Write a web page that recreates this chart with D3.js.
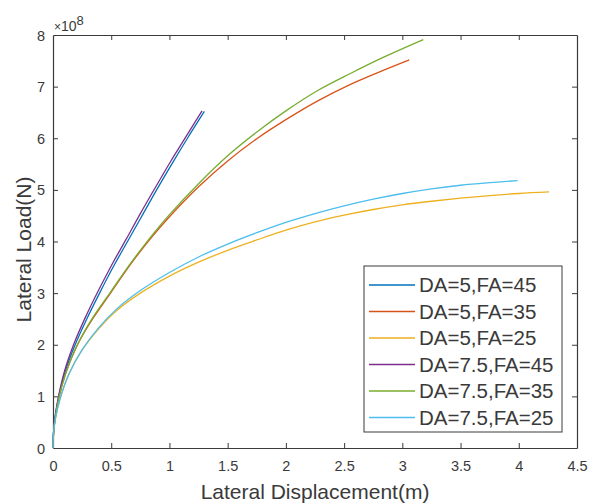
<!DOCTYPE html>
<html>
<head>
<meta charset="utf-8">
<script src="https://cdn.jsdelivr.net/npm/d3@7/dist/d3.min.js"></script>
<style>
  html, body { margin: 0; padding: 0; background: #fff; }
  svg { display: block; font-family: "Liberation Sans", Arial, Helvetica, sans-serif; }
</style>
</head>
<body>
<svg id="chart" width="590" height="503"></svg>
<script>
// ---- Data (displacement in m, load in 1e8 N) ----
const seriesNames = ["DA=5,FA=45", "DA=5,FA=35", "DA=5,FA=25", "DA=7.5,FA=45", "DA=7.5,FA=35", "DA=7.5,FA=25"];
const seriesColors = ["#0072BD", "#D95319", "#EDB120", "#7E2F8E", "#77AC30", "#4DBEEE"];

const da5fa45 = [[0,0],[0.005,0.3],[0.02,0.62],[0.05,1.0],[0.1,1.45],[0.19,2.0],[0.29,2.5],[0.4,3.0],[0.52,3.52],[0.64,4.0],[0.76,4.48],[0.89,5.0],[1.02,5.5],[1.16,6.02],[1.30,6.52]];
const da5fa35 = [[0,0],[0.005,0.3],[0.02,0.6],[0.05,0.97],[0.11,1.45],[0.21,2.0],[0.34,2.5],[0.5,3.02],[0.6,3.35],[0.72,3.72],[0.85,4.09],[1.0,4.48],[1.25,5.06],[1.5,5.56],[1.75,5.99],[2.0,6.36],[2.27,6.72],[2.55,7.04],[2.84,7.32],[3.06,7.52]];
const da5fa25 = [[0,0],[0.005,0.28],[0.02,0.56],[0.06,0.95],[0.14,1.45],[0.25,1.9],[0.4,2.33],[0.55,2.67],[0.75,3.0],[1.0,3.33],[1.25,3.6],[1.5,3.83],[1.75,4.03],[2.0,4.22],[2.25,4.38],[2.5,4.51],[2.75,4.62],[3.0,4.71],[3.25,4.78],[3.5,4.84],[3.75,4.89],[4.0,4.93],[4.26,4.96]];
const da75fa45 = [[0,0],[0.005,0.31],[0.02,0.64],[0.05,1.03],[0.1,1.5],[0.18,2.02],[0.28,2.54],[0.39,3.05],[0.51,3.57],[0.63,4.05],[0.75,4.54],[0.88,5.05],[1.01,5.55],[1.15,6.06],[1.28,6.53]];
const da75fa35 = [[0,0],[0.005,0.3],[0.02,0.6],[0.05,0.97],[0.11,1.45],[0.21,2.0],[0.34,2.52],[0.5,3.04],[0.6,3.37],[0.72,3.74],[0.85,4.12],[1.0,4.52],[1.25,5.12],[1.5,5.66],[1.75,6.12],[2.0,6.53],[2.27,6.92],[2.55,7.25],[2.84,7.57],[3.18,7.91]];
const da75fa25 = [[0,0],[0.005,0.28],[0.02,0.56],[0.06,0.95],[0.14,1.45],[0.25,1.9],[0.4,2.35],[0.55,2.7],[0.75,3.05],[1.0,3.4],[1.25,3.7],[1.5,3.95],[1.75,4.17],[2.0,4.37],[2.25,4.54],[2.5,4.69],[2.75,4.82],[3.0,4.93],[3.25,5.02],[3.5,5.09],[3.75,5.14],[3.99,5.18]];

const xTicks = [0, 0.5, 1, 1.5, 2, 2.5, 3, 3.5, 4, 4.5];
const yTicks = [0, 1, 2, 3, 4, 5, 6, 7, 8];
const xLabel = "Lateral Displacement(m)";
const yLabel = "Lateral Load(N)";

const seriesData = [da5fa45, da5fa35, da5fa25, da75fa45, da75fa35, da75fa25];

// ---- Layout ----
const L = 53, R = 577, T = 35, B = 448;
const axisColor = "#3a3a3a";
const svg = d3.select("#chart");

const x = d3.scaleLinear().domain([0, 4.5]).range([L, R]);
const y = d3.scaleLinear().domain([0, 8]).range([B, T]);

const fmt = d => String(d);
const gB = svg.append("g").attr("transform", `translate(0,${B})`)
  .call(d3.axisBottom(x).tickValues(xTicks).tickFormat(fmt).tickSize(-5).tickSizeOuter(0));
const gT = svg.append("g").attr("transform", `translate(0,${T})`)
  .call(d3.axisTop(x).tickValues(xTicks).tickFormat("").tickSize(-5).tickSizeOuter(0));
const gL = svg.append("g").attr("transform", `translate(${L},0)`)
  .call(d3.axisLeft(y).tickValues(yTicks).tickFormat(fmt).tickSize(-5).tickSizeOuter(0).tickPadding(8));
const gR = svg.append("g").attr("transform", `translate(${R},0)`)
  .call(d3.axisRight(y).tickValues(yTicks).tickFormat("").tickSize(-5).tickSizeOuter(0));

[gB, gT, gL, gR].forEach(g => {
  g.select(".domain").attr("stroke", axisColor).attr("stroke-width", 1.2);
  g.selectAll(".tick line").attr("stroke", axisColor).attr("stroke-width", 1);
  g.selectAll(".tick text").attr("fill", axisColor).style("font-size", "14.5px")
    .style("font-family", "'Liberation Sans', Arial, sans-serif");
});
gB.selectAll(".tick text").attr("dy", "0.71em").attr("y", 13);
gL.selectAll(".tick text").attr("dy", "0.35em");
gB.selectAll(".tick line").filter(d => d === 0 || d === 4.5).remove();
gT.selectAll(".tick line").filter(d => d === 0 || d === 4.5).remove();
gL.selectAll(".tick line").filter(d => d === 0 || d === 8).remove();
gR.selectAll(".tick line").filter(d => d === 0 || d === 8).remove();

// Exponent label
const ex = svg.append("text").attr("x", L + 1).attr("y", T - 4)
  .attr("fill", axisColor).style("font-size", "14px");
ex.append("tspan").style("font-size", "12px").text("\u00D7");
ex.append("tspan").text("10");
ex.append("tspan").attr("dy", -6).style("font-size", "13px").text("8");

// Lines
const line = d3.line().x(d => x(d[0])).y(d => y(d[1])).curve(d3.curveCatmullRom.alpha(0.5));
const plot = svg.append("g");
seriesData.forEach((s, i) => {
  plot.append("path").datum(s).attr("d", line)
    .attr("fill", "none").attr("stroke", seriesColors[i]).attr("stroke-width", 1.3);
});

// Axis labels
svg.append("text").attr("x", (L + R) / 2).attr("y", 499).attr("text-anchor", "middle")
  .attr("fill", axisColor).style("font-size", "21px").text(xLabel);
svg.append("text").attr("transform", `translate(31,${(T + B) / 2 + 8}) rotate(-90)`)
  .attr("text-anchor", "middle").attr("fill", axisColor).style("font-size", "21px").text(yLabel);

// Legend
const lgX = 364, lgY = 266, lgW = 198, lgH = 166, rowH = 26.5, row0 = 285;
const lg = svg.append("g");
lg.append("rect").attr("x", lgX).attr("y", lgY).attr("width", lgW).attr("height", lgH)
  .attr("fill", "#fff").attr("stroke", axisColor).attr("stroke-width", 1);
seriesNames.forEach((n, i) => {
  const yy = row0 + i * rowH;
  lg.append("line").attr("x1", 369).attr("x2", 415).attr("y1", yy).attr("y2", yy)
    .attr("stroke", seriesColors[i]).attr("stroke-width", 1.3);
  lg.append("text").attr("x", 419).attr("y", yy).attr("dy", "0.35em")
    .attr("fill", axisColor).style("font-size", "20.5px").text(n);
});
</script>
</body>
</html>
